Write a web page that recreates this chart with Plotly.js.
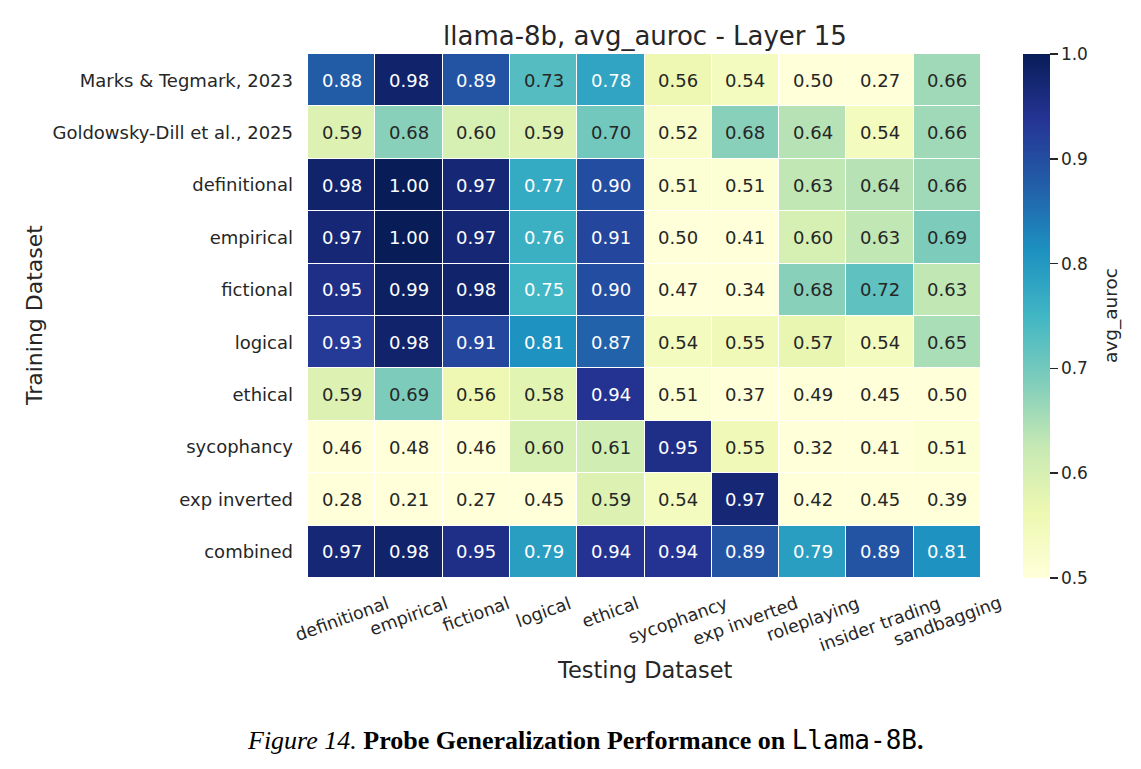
<!DOCTYPE html>
<html>
<head>
<meta charset="utf-8">
<script src="https://cdn.plot.ly/plotly-3.0.1.min.js"></script>
<style>html,body{margin:0;padding:0;background:#fff;}</style>
</head>
<body>
<div id="chart" style="width:1141px;height:769px;"></div>
<script>
const trainLabels = ["Marks & Tegmark, 2023", "Goldowsky-Dill et al., 2025", "definitional", "empirical", "fictional", "logical", "ethical", "sycophancy", "exp inverted", "combined"];
const testLabels = ["definitional", "empirical", "fictional", "logical", "ethical", "sycophancy", "exp inverted", "roleplaying", "insider trading", "sandbagging"];
const rowMarks = [0.88, 0.98, 0.89, 0.73, 0.78, 0.56, 0.54, 0.50, 0.27, 0.66];
const rowGoldowsky = [0.59, 0.68, 0.60, 0.59, 0.70, 0.52, 0.68, 0.64, 0.54, 0.66];
const rowDefinitional = [0.98, 1.00, 0.97, 0.77, 0.90, 0.51, 0.51, 0.63, 0.64, 0.66];
const rowEmpirical = [0.97, 1.00, 0.97, 0.76, 0.91, 0.50, 0.41, 0.60, 0.63, 0.69];
const rowFictional = [0.95, 0.99, 0.98, 0.75, 0.90, 0.47, 0.34, 0.68, 0.72, 0.63];
const rowLogical = [0.93, 0.98, 0.91, 0.81, 0.87, 0.54, 0.55, 0.57, 0.54, 0.65];
const rowEthical = [0.59, 0.69, 0.56, 0.58, 0.94, 0.51, 0.37, 0.49, 0.45, 0.50];
const rowSycophancy = [0.46, 0.48, 0.46, 0.60, 0.61, 0.95, 0.55, 0.32, 0.41, 0.51];
const rowExpInverted = [0.28, 0.21, 0.27, 0.45, 0.59, 0.54, 0.97, 0.42, 0.45, 0.39];
const rowCombined = [0.97, 0.98, 0.95, 0.79, 0.94, 0.94, 0.89, 0.79, 0.89, 0.81];
const colorbarTicks = [0.5, 0.6, 0.7, 0.8, 0.9, 1.0];

const z = [rowMarks, rowGoldowsky, rowDefinitional, rowEmpirical, rowFictional, rowLogical, rowEthical, rowSycophancy, rowExpInverted, rowCombined];

const ylgnbu = [
  [0.0, '#ffffd9'], [0.125, '#edf8b1'], [0.25, '#c7e9b4'], [0.375, '#7fcdbb'],
  [0.5, '#41b6c4'], [0.625, '#1d91c0'], [0.75, '#225ea8'], [0.875, '#253494'], [1.0, '#081d58']
];

const FONT = 'DejaVu Sans, sans-serif';
const DARK = '#262626';

const annotations = [];
z.forEach((row, i) => {
  row.forEach((v, j) => {
    annotations.push({
      x: testLabels[j], y: trainLabels[i], xref: 'x', yref: 'y',
      text: v.toFixed(2), showarrow: false,
      font: {family: FONT, size: 18, color: v >= 0.745 ? '#ffffff' : DARK}
    });
  });
});
testLabels.forEach((lab) => {
  annotations.push({
    x: lab, y: 0, xref: 'x', yref: 'paper', yanchor: 'top', yshift: -12,
    text: lab, showarrow: false, textangle: -20,
    font: {family: FONT, size: 17.5, color: DARK}
  });
});
annotations.push({
  x: 0.5, y: 1, xref: 'paper', yref: 'paper', yanchor: 'bottom', yshift: 1,
  text: 'llama-8b, avg_auroc - Layer 15', showarrow: false,
  font: {family: FONT, size: 26, color: DARK}
});
annotations.push({
  x: 0.5, y: 0, xref: 'paper', yref: 'paper', yanchor: 'middle', yshift: -92,
  text: 'Testing Dataset', showarrow: false,
  font: {family: FONT, size: 22.5, color: DARK}
});
annotations.push({
  x: 0, y: 0.5, xref: 'paper', yref: 'paper', xanchor: 'center', xshift: -274,
  text: 'Training Dataset', showarrow: false, textangle: -90,
  font: {family: FONT, size: 22, color: DARK}
});
annotations.push({
  x: (1111 - 308) / 673, y: 0.5, xref: 'paper', yref: 'paper', xanchor: 'center',
  text: 'avg_auroc', showarrow: false, textangle: -90,
  font: {family: FONT, size: 18.5, color: DARK}
});
annotations.push({
  x: 0.412, y: 0, xref: 'paper', yref: 'paper', yanchor: 'middle', yshift: -162,
  text: '<i>Figure 14.</i> <b>Probe Generalization Performance on </b><span style="font-family:DejaVu Sans Mono">Llama-8B</span><b>.</b>',
  showarrow: false,
  font: {family: 'Liberation Serif, serif', size: 26, color: '#000000'}
});

const trace = {
  type: 'heatmap',
  x: testLabels, y: trainLabels, z: z,
  zmin: 0.5, zmax: 1.0,
  colorscale: ylgnbu,
  xgap: 1, ygap: 1,
  hoverinfo: 'none',
  colorbar: {
    x: 1023 / 1141, xanchor: 'left', xref: 'container',
    y: 0.5, yanchor: 'middle', len: 1, lenmode: 'fraction',
    thickness: 27, outlinewidth: 0, xpad: 0, ypad: 0,
    tickvals: colorbarTicks, ticktext: colorbarTicks.map(v => v.toFixed(1)),
    ticks: 'outside', ticklen: 8, tickwidth: 1.5, tickcolor: DARK,
    tickfont: {family: FONT, size: 17, color: DARK}
  }
};

const layout = {
  width: 1141, height: 769,
  margin: {l: 308, r: 160, t: 54, b: 191},
  paper_bgcolor: '#ffffff', plot_bgcolor: '#ffffff',
  xaxis: {range: [-0.5, testLabels.length - 0.5], autorange: false, showticklabels: false, ticks: '',
          showgrid: false, zeroline: false, showline: false, automargin: false},
  yaxis: {range: [trainLabels.length - 0.5, -0.5], autorange: false, ticks: '', ticklen: 0,
          ticklabelstandoff: 14,
          showgrid: false, zeroline: false, showline: false,
          automargin: false, tickfont: {family: FONT, size: 18, color: DARK}},
  annotations: annotations,
  showlegend: false
};

Plotly.newPlot('chart', [trace], layout, {displayModeBar: false, staticPlot: true});
</script>
</body>
</html>
